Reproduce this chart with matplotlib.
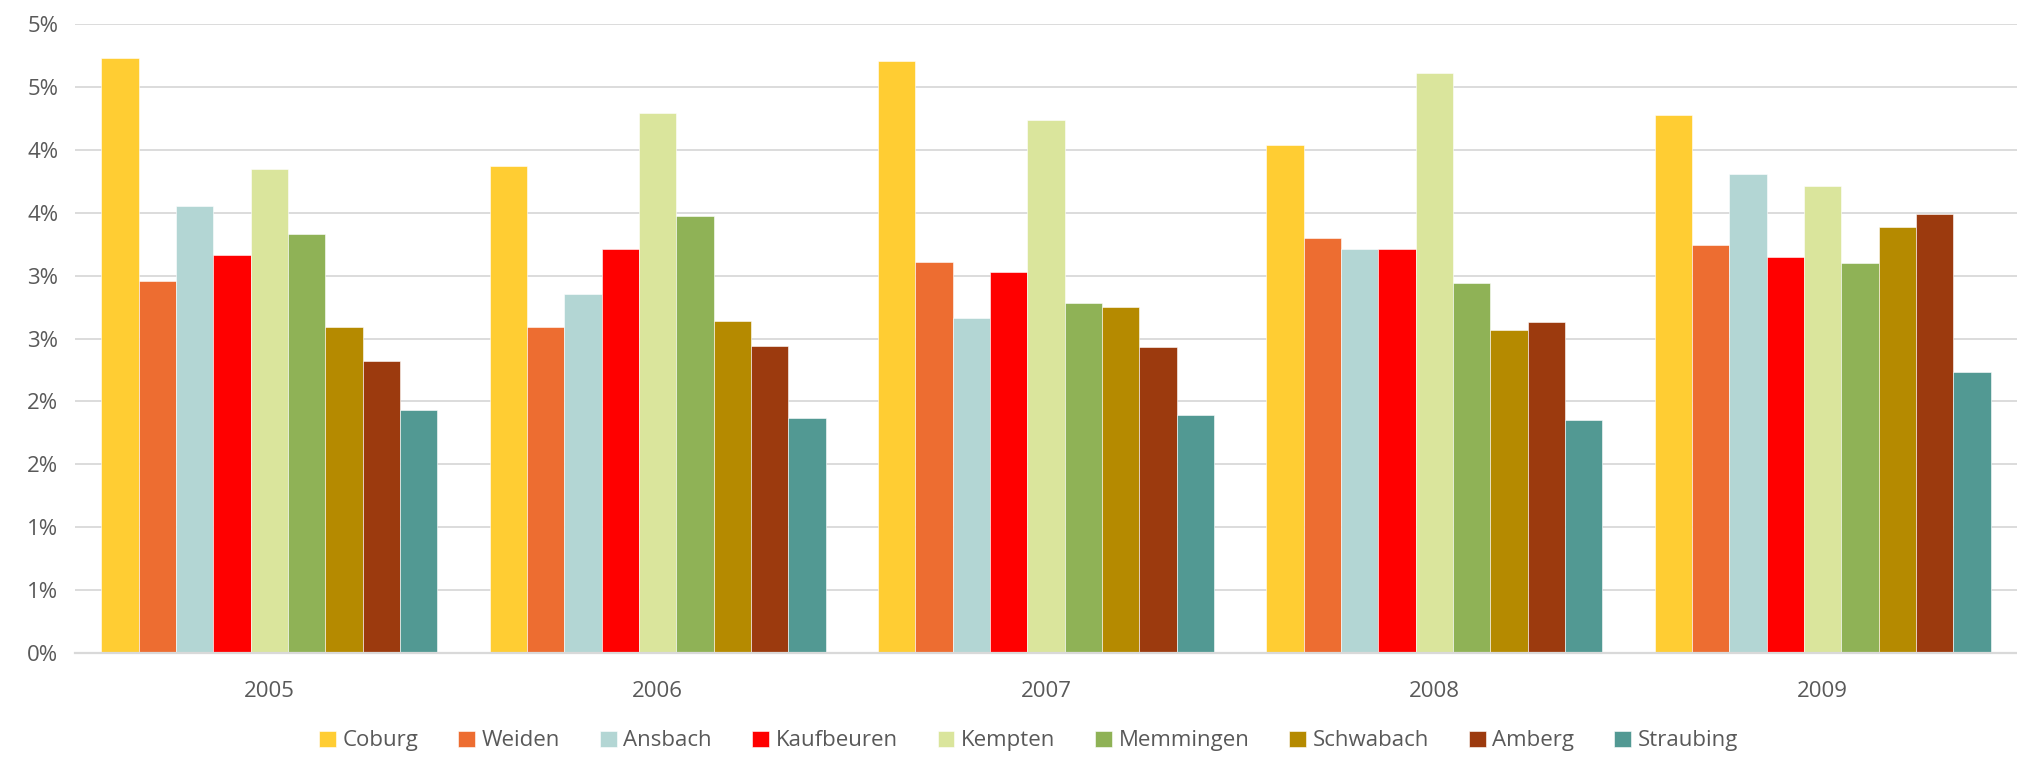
import numpy as np
import matplotlib as mpl
mpl.use('Agg')
import matplotlib.pyplot as plt
from matplotlib.ticker import FuncFormatter

years = ['2005', '2006', '2007', '2008', '2009']
cities = ['Coburg', 'Weiden', 'Ansbach', 'Kaufbeuren', 'Kempten',
          'Memmingen', 'Schwabach', 'Amberg', 'Straubing']
colors = ['#FFCD33', '#ED6D31', '#B3D6D4', '#FF0000', '#DAE59C',
          '#8FB256', '#B58A00', '#9C3A0E', '#529993']

# values in percent, per city across 2005..2009
coburg = [4.73, 3.87, 4.71, 4.04, 4.28]
weiden = [2.96, 2.59, 3.11, 3.30, 3.24]
ansbach = [3.55, 2.85, 2.66, 3.21, 3.81]
kaufbeuren = [3.16, 3.21, 3.03, 3.21, 3.15]
kempten = [3.85, 4.29, 4.24, 4.61, 3.71]
memmingen = [3.33, 3.47, 2.78, 2.94, 3.10]
schwabach = [2.59, 2.64, 2.75, 2.57, 3.39]
amberg = [2.32, 2.44, 2.43, 2.63, 3.49]
straubing = [1.93, 1.87, 1.89, 1.85, 2.23]

series = [coburg, weiden, ansbach, kaufbeuren, kempten,
          memmingen, schwabach, amberg, straubing]

plt.rcParams['font.family'] = ['Open Sans', 'DejaVu Sans']

fig = plt.figure(figsize=(20.17, 7.58), dpi=100)
ax = fig.add_axes([0.0372, 0.1385, 0.9628, 0.8298])

n = len(series)
width = 0.865 / n
x = np.arange(len(years))
for i, (vals, name, c) in enumerate(zip(series, cities, colors)):
    ax.bar(x - 0.865 / 2 + width * (i + 0.5), np.array(vals) / 100.0, width,
           color=c, edgecolor='white', linewidth=0.4, label=name, zorder=2)

ax.set_xlim(-0.5, len(years) - 0.5)
ax.set_ylim(0, 0.05)
ax.set_yticks(np.arange(0, 0.0501, 0.005))
ax.yaxis.set_major_formatter(FuncFormatter(lambda v, p: '%d%%' % int(round(v * 1000) / 10.0 + 0.5)))
ax.set_xticks(x)
ax.set_xticklabels(years)
ax.yaxis.grid(True, color='#D9D9D9', linewidth=1.3, zorder=0)
for s in ['top', 'right', 'left']:
    ax.spines[s].set_visible(False)
ax.spines['bottom'].set_color('#D9D9D9')
ax.spines['bottom'].set_linewidth(1.6)
ax.tick_params(axis='both', length=0, labelsize=16, labelcolor='#595959')
ax.tick_params(axis='x', pad=20)
ax.tick_params(axis='y', pad=12)

fig.legend(loc='center', bbox_to_anchor=(0.51, 0.0225), ncol=n, frameon=False,
           fontsize=16, labelcolor='#595959', handlelength=0.75, handleheight=0.75,
           handletextpad=0.3, columnspacing=1.8)

plt.savefig('out.png', dpi=100)
plt.close()
